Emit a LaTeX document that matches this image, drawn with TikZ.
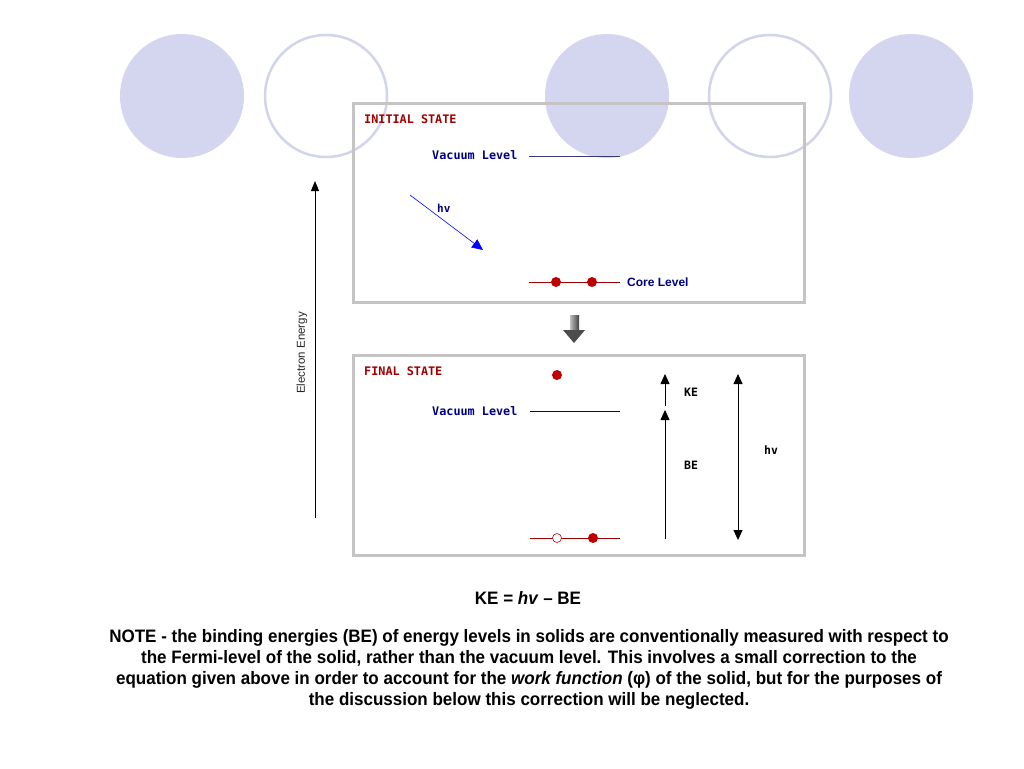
\documentclass[tikz,border=0pt]{standalone}
\usepackage{fontspec}
\setmainfont{Liberation Sans}
\newfontfamily\monofnt{DejaVu Sans Mono}
\newfontfamily\narrowfnt[FakeStretch=0.945]{Liberation Sans}
\usetikzlibrary{arrows.meta}
\definecolor{lav}{HTML}{D4D5EE}
\definecolor{lavline}{HTML}{D2D4EC}
\definecolor{panelgray}{HTML}{C4C4C4}
\definecolor{titlered}{HTML}{A00000}
\definecolor{navy}{HTML}{000080}
\definecolor{dotred}{HTML}{C00000}
\definecolor{vacline}{HTML}{3A3A7A}
\begin{document}
\begin{tikzpicture}[x=1pt,y=-1pt,
  fillcirc/.style={fill=lav,draw=none},
  opencirc/.style={draw=lavline,line width=2.5pt},
  panel/.style={draw=panelgray,line width=3pt},
  title/.style={anchor=west,inner sep=0pt,text=titlered,font=\monofnt\bfseries\fontsize{11.8}{12}\selectfont},
  vlabel/.style={anchor=west,inner sep=0pt,text=navy,font=\monofnt\bfseries\fontsize{11.8}{12}\selectfont},
  blab/.style={anchor=west,inner sep=0pt,text=navy,font=\bfseries\fontsize{12}{12}\selectfont},
  klab/.style={anchor=west,inner sep=0pt,text=black,font=\monofnt\bfseries\fontsize{11.5}{12}\selectfont},
  level/.style={line width=0.9pt},
  electron/.style={circle,fill=dotred,inner sep=0pt,minimum size=10pt},
  hole/.style={circle,draw=dotred,fill=white,line width=0.6pt,inner sep=0pt,minimum size=9pt},
  uparr/.style={-{Triangle[width=9pt,length=10pt]},line width=0.8pt,draw=black!75,color=black},
  bigtext/.style={font=\narrowfnt\bfseries\fontsize{18}{21}\selectfont,inner sep=0pt},
]
\useasboundingbox (0,0) rectangle (1024,768);
\fill[white] (0,0) rectangle (1024,768);
% decorative circles
\fill[fillcirc] (182,96) circle (62);
\draw[opencirc] (326,96) circle (61);
\fill[fillcirc] (607,96) circle (62);
\draw[opencirc] (770,96) circle (61);
\fill[fillcirc] (911,96) circle (62);

% panels
\draw[panel] (353,103) rectangle (804,302);
\draw[panel] (353,355) rectangle (804,555);

% Electron energy axis
\coordinate (ee0) at (315,518);
\coordinate (ee1) at (315,181);
\draw[-{Triangle[width=8pt,length=10pt]},line width=0.9pt,draw=black!65,color=black] (ee0) -- (ee1);
\node[rotate=90,font=\fontsize{11.5}{12}\selectfont,text=black!85,inner sep=0pt] (eelab) at (302,353) {Electron Energy};

% ---------- Initial state ----------
\node[title] (t1) at (364,119) {INITIAL STATE};
\node[vlabel] (vl1) at (432,155) {Vacuum Level};
\coordinate (v1a) at (529,156);
\coordinate (v1b) at (620,156);
\draw[level,draw=vacline] (v1a) -- (v1b);
\coordinate (hv0) at (410,195);
\coordinate (hv1) at (483,250);
\draw[-{Triangle[width=10pt,length=11pt]},line width=0.6pt,draw=navy!80!blue,color=blue] (hv0) -- (hv1);
\node[anchor=west,inner sep=0pt,text=navy,font=\monofnt\bfseries\fontsize{11}{12}\selectfont] (hvlab1) at (437,208) {hv};
\coordinate (c1a) at (529,282);
\coordinate (c1b) at (620,282);
\draw[level,draw=dotred!80!black] (c1a) -- (c1b);
\node[electron] (e1) at (556,282) {};
\node[electron] (e2) at (592,282) {};
\node[blab] (core) at (627,282) {Core Level};

% transition arrow
\shade[left color=black!25,right color=black!75] (570,315) rectangle (579,331);
\fill[black!70] (563,330) -- (585,330) -- (574,343) -- cycle;

% ---------- Final state ----------
\node[title] (t2) at (364,371) {FINAL STATE};
\node[electron] (e3) at (557,375) {};
\node[vlabel] (vl2) at (432,411) {Vacuum Level};
\coordinate (v2a) at (530,411);
\coordinate (v2b) at (620,411);
\draw[level,draw=navy] (v2a) -- (v2b);
\coordinate (c2a) at (530,538);
\coordinate (c2b) at (620,538);
\draw[level,draw=dotred!80!black] (c2a) -- (c2b);
\node[hole] (h1) at (557,538) {};
\node[electron] (e4) at (593,538) {};

\coordinate (ke0) at (665,406);
\coordinate (ke1) at (665,374);
\draw[uparr] (ke0) -- (ke1);
\coordinate (be0) at (665,539);
\coordinate (be1) at (665,410);
\draw[uparr] (be0) -- (be1);
\coordinate (hvA) at (738,374);
\coordinate (hvB) at (738,540);
\draw[{Triangle[width=9pt,length=10pt]}-{Triangle[width=9pt,length=10pt]},line width=0.8pt,draw=black!75,color=black] (hvA) -- (hvB);
\node[klab] (kelab) at (684,392) {KE};
\node[klab] (belab) at (684,465) {BE};
\node[klab] (hvlab2) at (764,450) {hv};

% ---------- Bottom text ----------
\node[bigtext] (eq) at (528,598) {KE = \textit{hv} – BE};
\node[bigtext,align=center,anchor=north] (note) at (529,629)
 {NOTE - the binding energies (BE) of energy levels in solids are conventionally measured with respect to\\
  the Fermi-level of the solid, rather than the vacuum level. This involves a small correction to the\\
  equation given above in order to account for the \textit{work function} (φ) of the solid, but for the purposes of\\
  the discussion below this correction will be neglected.};
\end{tikzpicture}
\end{document}
